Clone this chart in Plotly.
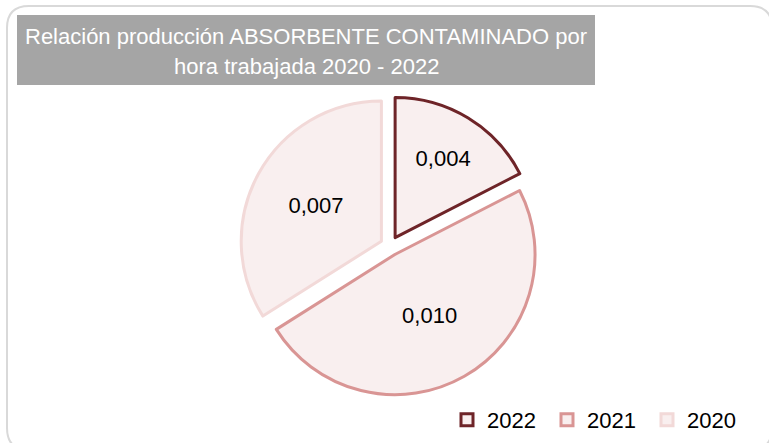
import plotly.graph_objects as go

# ---- data ----
years = ["2022", "2021", "2020"]
values = [0.0037, 0.0103, 0.0072]
line_colors = ["#6E2428", "#D99594", "#F2D9D8"]
fill_colors = ["#F9EFEF", "#F9EFEF", "#F9EFEF"]
title_lines = ["Relación producción ABSORBENTE CONTAMINADO por",
               "hora trabajada 2020 - 2022"]

W, H = 769, 443
FONT = "Liberation Sans, Arial, sans-serif"

def px(x):
    return x / W

def py(y):
    return 1 - y / H

fig = go.Figure()
fig.add_trace(go.Pie(
    labels=years,
    values=values,
    sort=False,
    direction="clockwise",
    rotation=0,
    pull=[0.07, 0.07, 0.07],
    marker=dict(colors=fill_colors, line=dict(color=line_colors, width=3)),
    texttemplate="%{value:.3f}",
    textposition="inside",
    insidetextorientation="horizontal",
    textfont=dict(family=FONT, size=22, color="#000000"),
    hoverinfo="label+value",
    domain=dict(x=[px(240), px(540)], y=[py(396), py(96)]),
))

# rounded chart border
x0, y0, x1, y1, r = 7, 6, 772, 450, 22
path = (f"M {px(x0)},{py(y0 + r)} L {px(x0)},{py(y1 - r)} Q {px(x0)},{py(y1)} {px(x0 + r)},{py(y1)} "
        f"L {px(x1 - r)},{py(y1)} Q {px(x1)},{py(y1)} {px(x1)},{py(y1 - r)} "
        f"L {px(x1)},{py(y0 + r)} Q {px(x1)},{py(y0)} {px(x1 - r)},{py(y0)} "
        f"L {px(x0 + r)},{py(y0)} Q {px(x0)},{py(y0)} {px(x0)},{py(y0 + r)} Z")
shapes = [
    dict(type="path", xref="paper", yref="paper", path=path,
         line=dict(color="#D9D9D9", width=2), layer="below"),
    dict(type="rect", xref="paper", yref="paper",
         x0=px(17), x1=px(595), y0=py(85), y1=py(15),
         fillcolor="#A5A5A5", line=dict(width=0), layer="below"),
]

annotations = [
    dict(text=title_lines[0], x=px(306), y=py(37), xref="paper", yref="paper",
         showarrow=False, xanchor="center", yanchor="middle",
         font=dict(family=FONT, size=22, color="#FFFFFF")),
    dict(text=title_lines[1], x=px(306), y=py(66), xref="paper", yref="paper",
         showarrow=False, xanchor="center", yanchor="middle",
         font=dict(family=FONT, size=22, color="#FFFFFF")),
]

fig.update_layout(
    width=W, height=H,
    margin=dict(l=0, r=0, t=0, b=0),
    paper_bgcolor="#FFFFFF",
    plot_bgcolor="#FFFFFF",
    separators=",.",
    shapes=shapes,
    annotations=annotations,
    showlegend=True,
    legend=dict(orientation="h", x=px(447), y=py(420), xanchor="left", yanchor="middle",
                font=dict(family=FONT, size=22, color="#000000"),
                entrywidth=55, entrywidthmode="pixels",
                bgcolor="rgba(0,0,0,0)", traceorder="normal"),
)

fig.write_html("out.html", config={"displayModeBar": False},
               post_script="document.body.style.margin='0px';")
